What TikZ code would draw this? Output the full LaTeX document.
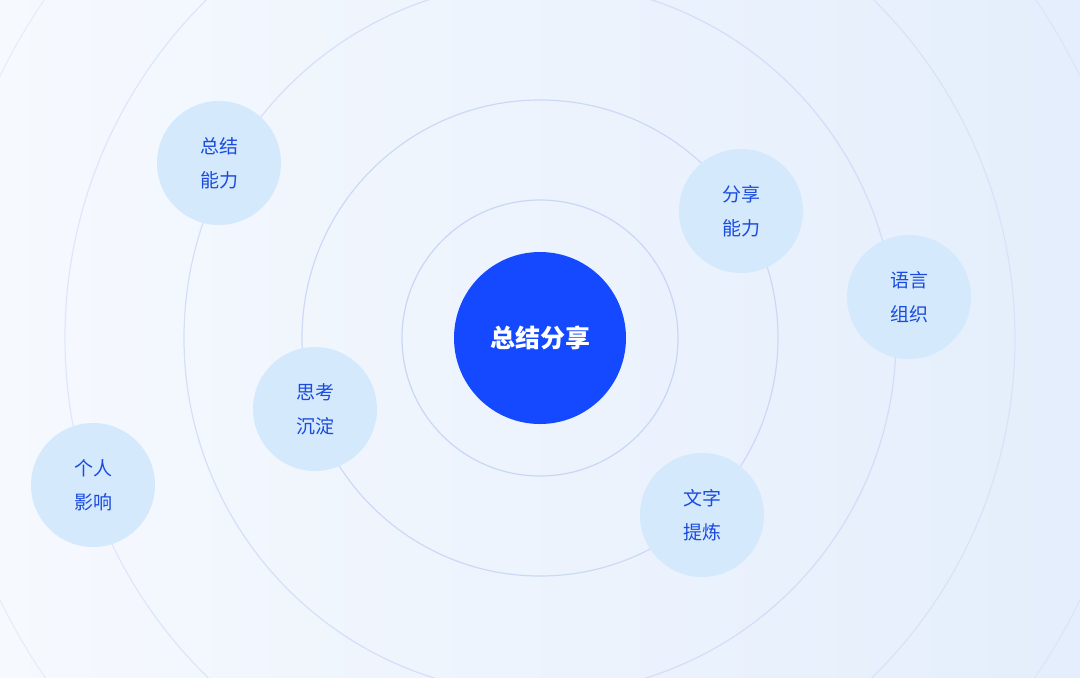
\documentclass[tikz,border=0pt]{standalone}
\usepackage{fontspec}
\newfontfamily\cjk{Noto Sans CJK SC}
\definecolor{bgA}{HTML}{F6F9FE}
\definecolor{bgB}{HTML}{E4EEFC}
\definecolor{ring}{HTML}{C8D7F6}
\definecolor{core}{HTML}{1449FF}
\definecolor{bub}{HTML}{D5E9FD}
\definecolor{txt}{HTML}{1A4BDF}
\tikzset{bubble/.style={circle,fill=bub,minimum size=124pt,inner sep=0pt,align=center,text=txt,font=\cjk\fontsize{19pt}{34pt}\selectfont},
ringl/.style={draw=ring,line width=1.2pt}}
\begin{document}
\begin{tikzpicture}[x=1pt,y=-1pt]
\useasboundingbox (0,0) rectangle (1080,678);
\shade[left color=bgA,right color=bgB] (0,0) rectangle (1080,678);
\clip (0,0) rectangle (1080,678);
\draw[ringl] (540,338) circle (138);
\draw[ringl,draw opacity=0.9] (540,338) circle (238);
\draw[ringl,draw opacity=0.7] (540,338) circle (356);
\draw[ringl,draw opacity=0.5] (540,338) circle (475);
\draw[ringl,draw opacity=0.35] (540,338) circle (600);
\node[circle,fill=core,minimum size=172pt,text=white,font=\cjk\bfseries\fontsize{25pt}{30pt}\selectfont] (c) at (540,338) {总结分享};
\node[bubble] (a) at (219,163) {总结\\能力};
\node[bubble] (b) at (741,211) {分享\\能力};
\node[bubble] (d) at (909,297) {语言\\组织};
\node[bubble] (e) at (315,409) {思考\\沉淀};
\node[bubble] (f) at (93,485) {个人\\影响};
\node[bubble] (g) at (702,515) {文字\\提炼};
\end{tikzpicture}
\end{document}
